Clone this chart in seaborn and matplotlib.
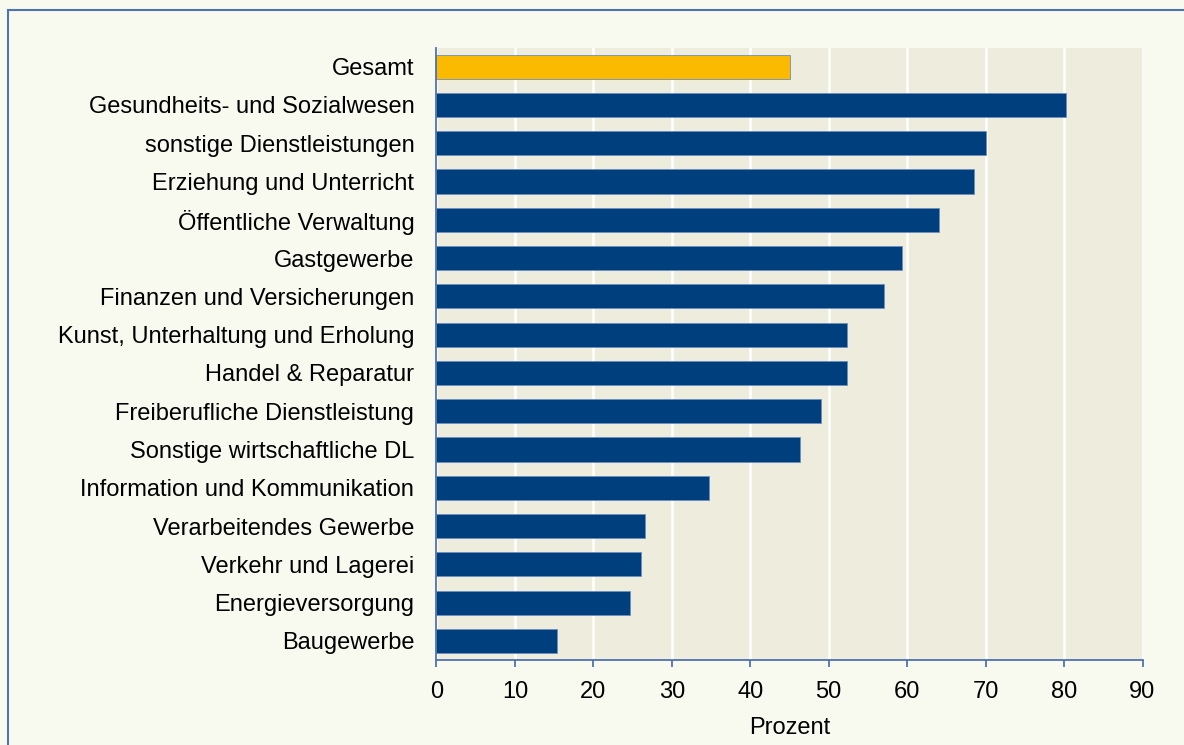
import pandas as pd
import seaborn as sns
import matplotlib.pyplot as plt
import matplotlib.ticker as ticker
from matplotlib.patches import Rectangle

# Anteil je Branche (Prozent), von oben nach unten
branchen = ['Gesamt',
            'Gesundheits- und Sozialwesen',
            'sonstige Dienstleistungen',
            'Erziehung und Unterricht',
            'Öffentliche Verwaltung',
            'Gastgewerbe',
            'Finanzen und Versicherungen',
            'Kunst, Unterhaltung und Erholung',
            'Handel & Reparatur',
            'Freiberufliche Dienstleistung',
            'Sonstige wirtschaftliche DL',
            'Information und Kommunikation',
            'Verarbeitendes Gewerbe',
            'Verkehr und Lagerei',
            'Energieversorgung',
            'Baugewerbe']
prozent = [45.0, 80.3, 70.0, 68.5, 64.0, 59.3, 57.0, 52.3, 52.3,
           49.0, 46.4, 34.7, 26.6, 26.1, 24.7, 15.3]
x_ticks = [0, 10, 20, 30, 40, 50, 60, 70, 80, 90]

df = pd.DataFrame({'Branche': branchen, 'Prozent': prozent})

# colours
bg_fig = '#f9faef'
bg_ax = '#eeecdc'
navy = '#003f7d'
gold = '#fbb900'
frame_blue = '#4f72b0'
palette = [gold] + [navy] * (len(branchen) - 1)

plt.rcParams['font.family'] = ['Liberation Sans', 'DejaVu Sans']

fig = plt.figure(figsize=(11.84, 7.45), dpi=100, facecolor=bg_fig)
ax = fig.add_axes([436.5 / 1184, 1 - 660 / 745, (1142.5 - 436.5) / 1184, (660 - 47.5) / 745])
ax.set_facecolor(bg_ax)

sns.barplot(data=df, x='Prozent', y='Branche', hue='Branche', palette=palette,
            legend=False, orient='h', width=0.63, saturation=1.0,
            edgecolor='#6d8fbf', linewidth=0.6, ax=ax, zorder=3)

ax.set_xlim(0, 90)
ax.set_ylim(len(branchen) - 0.5, -0.5)
ax.xaxis.set_major_locator(ticker.FixedLocator(x_ticks))
ax.grid(axis='x', color='white', linewidth=1.8, zorder=0)
ax.set_axisbelow(True)

for s in ['top', 'right']:
    ax.spines[s].set_visible(False)
for s in ['left', 'bottom']:
    ax.spines[s].set_color(frame_blue)
    ax.spines[s].set_linewidth(1.3)
    ax.spines[s].set_zorder(4)

ax.tick_params(axis='x', direction='out', length=5, width=1.3, color=frame_blue,
               labelsize=17, pad=10)
ax.tick_params(axis='y', length=0, labelsize=17, pad=16)
ax.set_ylabel('')
ax.set_xlabel('Prozent', fontsize=17, labelpad=10)

# outer frame like the original slide box
fig.patches.append(Rectangle((8 / 1184, -0.05), 1.1, 1 - 10 / 745 + 0.05,
                             transform=fig.transFigure, fill=False,
                             edgecolor=frame_blue, linewidth=1.5))

fig.savefig('out.png', dpi=100, facecolor=bg_fig)
